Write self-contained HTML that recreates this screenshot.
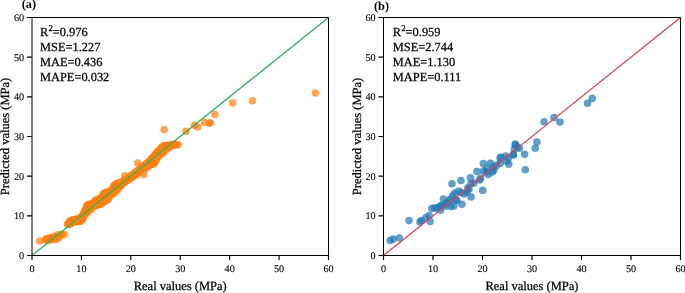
<!DOCTYPE html>
<html><head><meta charset="utf-8"><style>
html,body{margin:0;padding:0;background:#fff;overflow:hidden}
svg{display:block;will-change:transform}
text{font-family:"Liberation Serif",serif;fill:#000;stroke:#000;text-rendering:geometricPrecision}
</style></head><body>
<svg width="685" height="293" viewBox="0 0 685 293">
<g fill="#ff7f0e" fill-opacity="0.7">
<circle cx="67.8" cy="224.1" r="3.8"/>
<circle cx="67.8" cy="224.2" r="3.8"/>
<circle cx="69.5" cy="221.3" r="3.8"/>
<circle cx="69.5" cy="222.9" r="3.8"/>
<circle cx="69.5" cy="224.5" r="3.8"/>
<circle cx="71.2" cy="220.4" r="3.8"/>
<circle cx="71.2" cy="221.9" r="3.8"/>
<circle cx="71.2" cy="223.4" r="3.8"/>
<circle cx="72.9" cy="219.7" r="3.8"/>
<circle cx="72.9" cy="221.0" r="3.8"/>
<circle cx="72.9" cy="222.2" r="3.8"/>
<circle cx="74.6" cy="219.5" r="3.8"/>
<circle cx="74.6" cy="220.5" r="3.8"/>
<circle cx="74.6" cy="221.4" r="3.8"/>
<circle cx="76.3" cy="219.3" r="3.8"/>
<circle cx="76.3" cy="220.3" r="3.8"/>
<circle cx="76.3" cy="221.4" r="3.8"/>
<circle cx="78.0" cy="218.7" r="3.8"/>
<circle cx="78.0" cy="220.2" r="3.8"/>
<circle cx="78.0" cy="221.7" r="3.8"/>
<circle cx="79.7" cy="218.1" r="3.8"/>
<circle cx="79.7" cy="219.8" r="3.8"/>
<circle cx="79.7" cy="221.4" r="3.8"/>
<circle cx="81.4" cy="216.9" r="3.8"/>
<circle cx="81.4" cy="218.2" r="3.8"/>
<circle cx="81.4" cy="219.4" r="3.8"/>
<circle cx="81.4" cy="220.7" r="3.8"/>
<circle cx="83.1" cy="213.8" r="3.8"/>
<circle cx="83.1" cy="215.4" r="3.8"/>
<circle cx="83.1" cy="216.9" r="3.8"/>
<circle cx="83.1" cy="218.5" r="3.8"/>
<circle cx="84.8" cy="210.3" r="3.8"/>
<circle cx="84.8" cy="211.9" r="3.8"/>
<circle cx="84.8" cy="213.6" r="3.8"/>
<circle cx="84.8" cy="215.2" r="3.8"/>
<circle cx="86.5" cy="206.0" r="3.8"/>
<circle cx="86.5" cy="207.4" r="3.8"/>
<circle cx="86.5" cy="208.7" r="3.8"/>
<circle cx="86.5" cy="210.1" r="3.8"/>
<circle cx="86.5" cy="211.4" r="3.8"/>
<circle cx="86.5" cy="212.8" r="3.8"/>
<circle cx="88.2" cy="204.4" r="3.8"/>
<circle cx="88.2" cy="205.8" r="3.8"/>
<circle cx="88.2" cy="207.2" r="3.8"/>
<circle cx="88.2" cy="208.6" r="3.8"/>
<circle cx="88.2" cy="210.0" r="3.8"/>
<circle cx="88.2" cy="211.4" r="3.8"/>
<circle cx="89.9" cy="204.2" r="3.8"/>
<circle cx="89.9" cy="205.7" r="3.8"/>
<circle cx="89.9" cy="207.1" r="3.8"/>
<circle cx="89.9" cy="208.6" r="3.8"/>
<circle cx="89.9" cy="210.1" r="3.8"/>
<circle cx="91.6" cy="204.0" r="3.8"/>
<circle cx="91.6" cy="205.6" r="3.8"/>
<circle cx="91.6" cy="207.2" r="3.8"/>
<circle cx="91.6" cy="208.7" r="3.8"/>
<circle cx="93.3" cy="202.9" r="3.8"/>
<circle cx="93.3" cy="204.2" r="3.8"/>
<circle cx="93.3" cy="205.5" r="3.8"/>
<circle cx="93.3" cy="206.8" r="3.8"/>
<circle cx="95.0" cy="200.7" r="3.8"/>
<circle cx="95.0" cy="202.4" r="3.8"/>
<circle cx="95.0" cy="204.1" r="3.8"/>
<circle cx="95.0" cy="205.8" r="3.8"/>
<circle cx="96.7" cy="199.9" r="3.8"/>
<circle cx="96.7" cy="201.3" r="3.8"/>
<circle cx="96.7" cy="202.6" r="3.8"/>
<circle cx="96.7" cy="203.9" r="3.8"/>
<circle cx="96.7" cy="205.3" r="3.8"/>
<circle cx="98.4" cy="199.3" r="3.8"/>
<circle cx="98.4" cy="200.7" r="3.8"/>
<circle cx="98.4" cy="202.1" r="3.8"/>
<circle cx="98.4" cy="203.4" r="3.8"/>
<circle cx="98.4" cy="204.8" r="3.8"/>
<circle cx="100.1" cy="198.5" r="3.8"/>
<circle cx="100.1" cy="200.0" r="3.8"/>
<circle cx="100.1" cy="201.4" r="3.8"/>
<circle cx="100.1" cy="202.9" r="3.8"/>
<circle cx="100.1" cy="204.3" r="3.8"/>
<circle cx="101.8" cy="196.6" r="3.8"/>
<circle cx="101.8" cy="198.1" r="3.8"/>
<circle cx="101.8" cy="199.5" r="3.8"/>
<circle cx="101.8" cy="200.9" r="3.8"/>
<circle cx="101.8" cy="202.3" r="3.8"/>
<circle cx="101.8" cy="203.7" r="3.8"/>
<circle cx="103.5" cy="193.9" r="3.8"/>
<circle cx="103.5" cy="195.5" r="3.8"/>
<circle cx="103.5" cy="197.2" r="3.8"/>
<circle cx="103.5" cy="198.8" r="3.8"/>
<circle cx="103.5" cy="200.5" r="3.8"/>
<circle cx="103.5" cy="202.1" r="3.8"/>
<circle cx="105.2" cy="192.5" r="3.8"/>
<circle cx="105.2" cy="193.9" r="3.8"/>
<circle cx="105.2" cy="195.3" r="3.8"/>
<circle cx="105.2" cy="196.7" r="3.8"/>
<circle cx="105.2" cy="198.1" r="3.8"/>
<circle cx="105.2" cy="199.6" r="3.8"/>
<circle cx="105.2" cy="201.0" r="3.8"/>
<circle cx="106.9" cy="192.0" r="3.8"/>
<circle cx="106.9" cy="193.6" r="3.8"/>
<circle cx="106.9" cy="195.2" r="3.8"/>
<circle cx="106.9" cy="196.9" r="3.8"/>
<circle cx="106.9" cy="198.5" r="3.8"/>
<circle cx="106.9" cy="200.1" r="3.8"/>
<circle cx="108.6" cy="191.7" r="3.8"/>
<circle cx="108.6" cy="193.2" r="3.8"/>
<circle cx="108.6" cy="194.7" r="3.8"/>
<circle cx="108.6" cy="196.1" r="3.8"/>
<circle cx="108.6" cy="197.6" r="3.8"/>
<circle cx="108.6" cy="199.1" r="3.8"/>
<circle cx="110.3" cy="191.2" r="3.8"/>
<circle cx="110.3" cy="192.7" r="3.8"/>
<circle cx="110.3" cy="194.2" r="3.8"/>
<circle cx="110.3" cy="195.7" r="3.8"/>
<circle cx="112.0" cy="189.3" r="3.8"/>
<circle cx="112.0" cy="190.9" r="3.8"/>
<circle cx="112.0" cy="192.5" r="3.8"/>
<circle cx="112.0" cy="194.1" r="3.8"/>
<circle cx="113.7" cy="185.7" r="3.8"/>
<circle cx="113.7" cy="187.2" r="3.8"/>
<circle cx="113.7" cy="188.7" r="3.8"/>
<circle cx="113.7" cy="190.2" r="3.8"/>
<circle cx="113.7" cy="191.7" r="3.8"/>
<circle cx="113.7" cy="193.2" r="3.8"/>
<circle cx="115.4" cy="184.3" r="3.8"/>
<circle cx="115.4" cy="185.9" r="3.8"/>
<circle cx="115.4" cy="187.4" r="3.8"/>
<circle cx="115.4" cy="189.0" r="3.8"/>
<circle cx="115.4" cy="190.6" r="3.8"/>
<circle cx="115.4" cy="192.2" r="3.8"/>
<circle cx="117.1" cy="183.4" r="3.8"/>
<circle cx="117.1" cy="185.1" r="3.8"/>
<circle cx="117.1" cy="186.7" r="3.8"/>
<circle cx="117.1" cy="188.4" r="3.8"/>
<circle cx="117.1" cy="190.0" r="3.8"/>
<circle cx="118.8" cy="183.1" r="3.8"/>
<circle cx="118.8" cy="184.7" r="3.8"/>
<circle cx="118.8" cy="186.3" r="3.8"/>
<circle cx="118.8" cy="187.9" r="3.8"/>
<circle cx="120.5" cy="182.6" r="3.8"/>
<circle cx="120.5" cy="183.7" r="3.8"/>
<circle cx="120.5" cy="184.9" r="3.8"/>
<circle cx="120.5" cy="186.0" r="3.8"/>
<circle cx="122.2" cy="181.8" r="3.8"/>
<circle cx="122.2" cy="183.0" r="3.8"/>
<circle cx="122.2" cy="184.2" r="3.8"/>
<circle cx="123.9" cy="180.9" r="3.8"/>
<circle cx="123.9" cy="181.8" r="3.8"/>
<circle cx="123.9" cy="182.7" r="3.8"/>
<circle cx="125.6" cy="179.8" r="3.8"/>
<circle cx="125.6" cy="180.7" r="3.8"/>
<circle cx="125.6" cy="181.6" r="3.8"/>
<circle cx="127.3" cy="178.4" r="3.8"/>
<circle cx="127.3" cy="179.5" r="3.8"/>
<circle cx="127.3" cy="180.6" r="3.8"/>
<circle cx="129.0" cy="177.0" r="3.8"/>
<circle cx="129.0" cy="178.3" r="3.8"/>
<circle cx="129.0" cy="179.5" r="3.8"/>
<circle cx="130.7" cy="175.8" r="3.8"/>
<circle cx="130.7" cy="177.1" r="3.8"/>
<circle cx="130.7" cy="178.3" r="3.8"/>
<circle cx="132.4" cy="174.7" r="3.8"/>
<circle cx="132.4" cy="175.9" r="3.8"/>
<circle cx="132.4" cy="177.2" r="3.8"/>
<circle cx="134.1" cy="173.4" r="3.8"/>
<circle cx="134.1" cy="174.7" r="3.8"/>
<circle cx="134.1" cy="176.1" r="3.8"/>
<circle cx="135.8" cy="172.0" r="3.8"/>
<circle cx="135.8" cy="173.5" r="3.8"/>
<circle cx="135.8" cy="174.9" r="3.8"/>
<circle cx="137.5" cy="170.6" r="3.8"/>
<circle cx="137.5" cy="172.0" r="3.8"/>
<circle cx="137.5" cy="173.5" r="3.8"/>
<circle cx="139.2" cy="169.2" r="3.8"/>
<circle cx="139.2" cy="170.5" r="3.8"/>
<circle cx="139.2" cy="171.9" r="3.8"/>
<circle cx="140.9" cy="167.7" r="3.8"/>
<circle cx="140.9" cy="169.3" r="3.8"/>
<circle cx="140.9" cy="170.8" r="3.8"/>
<circle cx="142.6" cy="166.5" r="3.8"/>
<circle cx="142.6" cy="168.2" r="3.8"/>
<circle cx="142.6" cy="169.9" r="3.8"/>
<circle cx="144.3" cy="165.4" r="3.8"/>
<circle cx="144.3" cy="166.6" r="3.8"/>
<circle cx="144.3" cy="167.8" r="3.8"/>
<circle cx="144.3" cy="169.0" r="3.8"/>
<circle cx="146.0" cy="164.1" r="3.8"/>
<circle cx="146.0" cy="165.4" r="3.8"/>
<circle cx="146.0" cy="166.6" r="3.8"/>
<circle cx="146.0" cy="167.9" r="3.8"/>
<circle cx="147.7" cy="162.5" r="3.8"/>
<circle cx="147.7" cy="163.9" r="3.8"/>
<circle cx="147.7" cy="165.3" r="3.8"/>
<circle cx="147.7" cy="166.8" r="3.8"/>
<circle cx="149.4" cy="160.8" r="3.8"/>
<circle cx="149.4" cy="162.4" r="3.8"/>
<circle cx="149.4" cy="164.0" r="3.8"/>
<circle cx="149.4" cy="165.6" r="3.8"/>
<circle cx="151.1" cy="159.1" r="3.8"/>
<circle cx="151.1" cy="160.5" r="3.8"/>
<circle cx="151.1" cy="162.0" r="3.8"/>
<circle cx="151.1" cy="163.4" r="3.8"/>
<circle cx="151.1" cy="164.8" r="3.8"/>
<circle cx="152.8" cy="157.4" r="3.8"/>
<circle cx="152.8" cy="158.7" r="3.8"/>
<circle cx="152.8" cy="160.1" r="3.8"/>
<circle cx="152.8" cy="161.5" r="3.8"/>
<circle cx="152.8" cy="162.8" r="3.8"/>
<circle cx="152.8" cy="164.2" r="3.8"/>
<circle cx="154.5" cy="155.3" r="3.8"/>
<circle cx="154.5" cy="156.9" r="3.8"/>
<circle cx="154.5" cy="158.6" r="3.8"/>
<circle cx="154.5" cy="160.2" r="3.8"/>
<circle cx="154.5" cy="161.8" r="3.8"/>
<circle cx="154.5" cy="163.4" r="3.8"/>
<circle cx="156.2" cy="153.3" r="3.8"/>
<circle cx="156.2" cy="154.6" r="3.8"/>
<circle cx="156.2" cy="156.0" r="3.8"/>
<circle cx="156.2" cy="157.4" r="3.8"/>
<circle cx="156.2" cy="158.7" r="3.8"/>
<circle cx="156.2" cy="160.1" r="3.8"/>
<circle cx="157.9" cy="151.4" r="3.8"/>
<circle cx="157.9" cy="152.7" r="3.8"/>
<circle cx="157.9" cy="154.1" r="3.8"/>
<circle cx="157.9" cy="155.4" r="3.8"/>
<circle cx="157.9" cy="156.7" r="3.8"/>
<circle cx="159.6" cy="149.7" r="3.8"/>
<circle cx="159.6" cy="151.0" r="3.8"/>
<circle cx="159.6" cy="152.4" r="3.8"/>
<circle cx="159.6" cy="153.8" r="3.8"/>
<circle cx="159.6" cy="155.2" r="3.8"/>
<circle cx="161.3" cy="147.7" r="3.8"/>
<circle cx="161.3" cy="149.4" r="3.8"/>
<circle cx="161.3" cy="151.0" r="3.8"/>
<circle cx="161.3" cy="152.7" r="3.8"/>
<circle cx="161.3" cy="154.3" r="3.8"/>
<circle cx="163.0" cy="146.0" r="3.8"/>
<circle cx="163.0" cy="147.7" r="3.8"/>
<circle cx="163.0" cy="149.4" r="3.8"/>
<circle cx="163.0" cy="151.1" r="3.8"/>
<circle cx="163.0" cy="152.8" r="3.8"/>
<circle cx="164.7" cy="145.6" r="3.8"/>
<circle cx="164.7" cy="147.3" r="3.8"/>
<circle cx="164.7" cy="149.0" r="3.8"/>
<circle cx="164.7" cy="150.7" r="3.8"/>
<circle cx="166.4" cy="145.5" r="3.8"/>
<circle cx="166.4" cy="146.8" r="3.8"/>
<circle cx="166.4" cy="148.0" r="3.8"/>
<circle cx="166.4" cy="149.3" r="3.8"/>
<circle cx="168.1" cy="145.3" r="3.8"/>
<circle cx="168.1" cy="146.7" r="3.8"/>
<circle cx="168.1" cy="148.0" r="3.8"/>
<circle cx="169.8" cy="145.1" r="3.8"/>
<circle cx="169.8" cy="146.0" r="3.8"/>
<circle cx="169.8" cy="147.0" r="3.8"/>
<circle cx="171.5" cy="144.7" r="3.8"/>
<circle cx="171.5" cy="146.0" r="3.8"/>
<circle cx="173.2" cy="144.3" r="3.8"/>
<circle cx="173.2" cy="145.1" r="3.8"/>
<circle cx="174.9" cy="144.2" r="3.8"/>
<circle cx="174.9" cy="144.6" r="3.8"/>
<circle cx="176.6" cy="144.6" r="3.8"/>
<circle cx="178.3" cy="144.9" r="3.8"/>
<circle cx="39.6" cy="241.0" r="3.8"/>
<circle cx="45.3" cy="240.0" r="3.8"/>
<circle cx="46.3" cy="238.9" r="3.8"/>
<circle cx="49.4" cy="237.9" r="3.8"/>
<circle cx="49.4" cy="240.5" r="3.8"/>
<circle cx="52.4" cy="237.4" r="3.8"/>
<circle cx="54.5" cy="236.9" r="3.8"/>
<circle cx="56.0" cy="239.4" r="3.8"/>
<circle cx="58.0" cy="234.8" r="3.8"/>
<circle cx="58.6" cy="237.9" r="3.8"/>
<circle cx="60.6" cy="235.4" r="3.8"/>
<circle cx="64.4" cy="234.6" r="3.8"/>
<circle cx="47.5" cy="239.5" r="3.8"/>
<circle cx="51.0" cy="238.5" r="3.8"/>
<circle cx="55.0" cy="237.5" r="3.8"/>
<circle cx="57.5" cy="236.2" r="3.8"/>
<circle cx="53.0" cy="239.6" r="3.8"/>
<circle cx="61.5" cy="234.2" r="3.8"/>
<circle cx="124.8" cy="175.9" r="3.8"/>
<circle cx="137.7" cy="163.0" r="3.8"/>
<circle cx="143.9" cy="174.6" r="3.8"/>
<circle cx="164.2" cy="129.5" r="3.8"/>
<circle cx="186.0" cy="131.2" r="3.8"/>
<circle cx="194.4" cy="125.2" r="3.8"/>
<circle cx="197.8" cy="127.0" r="3.8"/>
<circle cx="204.6" cy="122.4" r="3.8"/>
<circle cx="210.0" cy="123.0" r="3.8"/>
<circle cx="210.0" cy="123.0" r="3.8"/>
<circle cx="214.9" cy="114.6" r="3.8"/>
<circle cx="232.7" cy="103.1" r="3.8"/>
<circle cx="252.6" cy="100.7" r="3.8"/>
<circle cx="315.4" cy="93.0" r="3.8"/>
</g>
<line x1="32" y1="255.5" x2="328.5" y2="17.5" stroke="#32b35a" stroke-width="1.3"/>
<path d="M32 17.5H328.5V255.5H32Z" fill="none" stroke="#000" stroke-width="1"/>
<path d="M32.00 255.5v4.5 M27 255.50h5 M81.42 255.5v4.5 M27 215.83h5 M130.83 255.5v4.5 M27 176.17h5 M180.25 255.5v4.5 M27 136.50h5 M229.67 255.5v4.5 M27 96.83h5 M279.08 255.5v4.5 M27 57.17h5 M328.50 255.5v4.5 M27 17.50h5" stroke="#000" stroke-width="1.15" fill="none"/>
<g font-size="10.2" text-anchor="middle" stroke-width="0.1">
<text x="32.00" y="272.2">0</text>
<text x="81.42" y="272.2">10</text>
<text x="130.83" y="272.2">20</text>
<text x="180.25" y="272.2">30</text>
<text x="229.67" y="272.2">40</text>
<text x="279.08" y="272.2">50</text>
<text x="328.50" y="272.2">60</text>
</g><g font-size="10.2" text-anchor="end" stroke-width="0.1">
<text x="24.20" y="258.90">0</text>
<text x="24.20" y="219.23">10</text>
<text x="24.20" y="179.57">20</text>
<text x="24.20" y="139.90">30</text>
<text x="24.20" y="100.23">40</text>
<text x="24.20" y="60.57">50</text>
<text x="24.20" y="20.90">60</text>
</g>
<text x="180.25" y="290.3" font-size="12.5" stroke-width="0.25" text-anchor="middle">Real values (MPa)</text>
<text transform="translate(9.30,136.50) rotate(-90)" font-size="12.5" stroke-width="0.25" text-anchor="middle">Predicted values (MPa)</text>
<g font-size="12.4" stroke-width="0.25" transform="translate(0,-0.2)">
<text x="40.0" y="36">R<tspan font-size="8.8" dx="0.15" dy="-4.9">2</tspan><tspan dy="4.9">=0.976</tspan></text>
<text x="40.0" y="51">MSE=1.227</text>
<text x="40.0" y="66">MAE=0.436</text>
<text x="40.0" y="81">MAPE=0.032</text>
</g>
<text x="28.9" y="8.3" font-size="12.3" font-weight="bold" stroke-width="0" text-anchor="middle">(a)</text><g fill="#1f77b4" fill-opacity="0.7">
<circle cx="390.2" cy="240.5" r="3.8"/>
<circle cx="393.2" cy="239.1" r="3.8"/>
<circle cx="399.4" cy="238.0" r="3.8"/>
<circle cx="409.0" cy="220.6" r="3.8"/>
<circle cx="419.9" cy="222.0" r="3.8"/>
<circle cx="421.5" cy="220.6" r="3.8"/>
<circle cx="426.0" cy="217.5" r="3.8"/>
<circle cx="429.1" cy="215.5" r="3.8"/>
<circle cx="430.1" cy="221.5" r="3.8"/>
<circle cx="431.8" cy="208.6" r="3.8"/>
<circle cx="436.9" cy="208.3" r="3.8"/>
<circle cx="440.6" cy="210.2" r="3.8"/>
<circle cx="443.5" cy="199.0" r="3.8"/>
<circle cx="445.6" cy="206.2" r="3.8"/>
<circle cx="448.7" cy="201.3" r="3.8"/>
<circle cx="453.8" cy="206.0" r="3.8"/>
<circle cx="454.7" cy="193.1" r="3.8"/>
<circle cx="458.7" cy="191.0" r="3.8"/>
<circle cx="456.9" cy="200.5" r="3.8"/>
<circle cx="461.9" cy="204.3" r="3.8"/>
<circle cx="464.1" cy="194.0" r="3.8"/>
<circle cx="467.1" cy="192.0" r="3.8"/>
<circle cx="467.9" cy="187.9" r="3.8"/>
<circle cx="471.1" cy="197.0" r="3.8"/>
<circle cx="471.0" cy="183.8" r="3.8"/>
<circle cx="452.0" cy="183.8" r="3.8"/>
<circle cx="461.0" cy="180.5" r="3.8"/>
<circle cx="470.4" cy="177.9" r="3.8"/>
<circle cx="477.0" cy="171.5" r="3.8"/>
<circle cx="479.8" cy="180.0" r="3.8"/>
<circle cx="482.7" cy="190.4" r="3.8"/>
<circle cx="480.6" cy="178.1" r="3.8"/>
<circle cx="483.4" cy="163.6" r="3.8"/>
<circle cx="486.3" cy="172.0" r="3.8"/>
<circle cx="488.3" cy="174.6" r="3.8"/>
<circle cx="490.4" cy="163.3" r="3.8"/>
<circle cx="492.4" cy="172.0" r="3.8"/>
<circle cx="492.9" cy="166.9" r="3.8"/>
<circle cx="496.5" cy="165.4" r="3.8"/>
<circle cx="500.1" cy="157.7" r="3.8"/>
<circle cx="500.1" cy="163.3" r="3.8"/>
<circle cx="505.7" cy="156.1" r="3.8"/>
<circle cx="506.7" cy="161.3" r="3.8"/>
<circle cx="508.8" cy="164.3" r="3.8"/>
<circle cx="513.4" cy="155.1" r="3.8"/>
<circle cx="515.3" cy="145.1" r="3.8"/>
<circle cx="519.4" cy="148.2" r="3.8"/>
<circle cx="515.4" cy="144.1" r="3.8"/>
<circle cx="517.4" cy="147.1" r="3.8"/>
<circle cx="514.3" cy="149.2" r="3.8"/>
<circle cx="513.3" cy="154.3" r="3.8"/>
<circle cx="508.2" cy="158.4" r="3.8"/>
<circle cx="501.0" cy="157.4" r="3.8"/>
<circle cx="524.6" cy="154.3" r="3.8"/>
<circle cx="535.2" cy="148.2" r="3.8"/>
<circle cx="536.9" cy="142.0" r="3.8"/>
<circle cx="544.1" cy="121.8" r="3.8"/>
<circle cx="554.0" cy="117.5" r="3.8"/>
<circle cx="560.0" cy="122.0" r="3.8"/>
<circle cx="587.5" cy="103.2" r="3.8"/>
<circle cx="592.3" cy="98.4" r="3.8"/>
<circle cx="525.3" cy="169.8" r="3.8"/>
<circle cx="450.0" cy="199.5" r="3.8"/>
<circle cx="456.0" cy="200.0" r="3.8"/>
<circle cx="461.0" cy="192.5" r="3.8"/>
<circle cx="469.0" cy="189.0" r="3.8"/>
<circle cx="474.0" cy="183.0" r="3.8"/>
<circle cx="452.5" cy="196.0" r="3.8"/>
<circle cx="447.0" cy="203.0" r="3.8"/>
<circle cx="441.0" cy="205.5" r="3.8"/>
<circle cx="487.0" cy="168.5" r="3.8"/>
<circle cx="494.0" cy="170.0" r="3.8"/>
<circle cx="483.5" cy="171.0" r="3.8"/>
<circle cx="434.5" cy="207.8" r="3.8"/>
<circle cx="439.5" cy="206.8" r="3.8"/>
<circle cx="444.0" cy="204.5" r="3.8"/>
<circle cx="451.0" cy="206.5" r="3.8"/>
</g>
<line x1="383.5" y1="255.5" x2="680.5" y2="17.5" stroke="#dd4358" stroke-width="1.3"/>
<path d="M383.5 17.5H680.5V255.5H383.5Z" fill="none" stroke="#000" stroke-width="1"/>
<path d="M383.50 255.5v4.5 M378.5 255.50h5 M433.00 255.5v4.5 M378.5 215.83h5 M482.50 255.5v4.5 M378.5 176.17h5 M532.00 255.5v4.5 M378.5 136.50h5 M581.50 255.5v4.5 M378.5 96.83h5 M631.00 255.5v4.5 M378.5 57.17h5 M680.50 255.5v4.5 M378.5 17.50h5" stroke="#000" stroke-width="1.15" fill="none"/>
<g font-size="10.2" text-anchor="middle" stroke-width="0.1">
<text x="383.50" y="272.2">0</text>
<text x="433.00" y="272.2">10</text>
<text x="482.50" y="272.2">20</text>
<text x="532.00" y="272.2">30</text>
<text x="581.50" y="272.2">40</text>
<text x="631.00" y="272.2">50</text>
<text x="680.50" y="272.2">60</text>
</g><g font-size="10.2" text-anchor="end" stroke-width="0.1">
<text x="375.70" y="258.90">0</text>
<text x="375.70" y="219.23">10</text>
<text x="375.70" y="179.57">20</text>
<text x="375.70" y="139.90">30</text>
<text x="375.70" y="100.23">40</text>
<text x="375.70" y="60.57">50</text>
<text x="375.70" y="20.90">60</text>
</g>
<text x="532.00" y="290.3" font-size="12.5" stroke-width="0.25" text-anchor="middle">Real values (MPa)</text>
<text transform="translate(360.80,136.50) rotate(-90)" font-size="12.5" stroke-width="0.25" text-anchor="middle">Predicted values (MPa)</text>
<g font-size="12.4" stroke-width="0.25" transform="translate(0,0.3)">
<text x="392.8" y="36">R<tspan font-size="8.8" dx="0.15" dy="-4.9">2</tspan><tspan dy="4.9">=0.959</tspan></text>
<text x="392.8" y="51">MSE=2.744</text>
<text x="392.8" y="66">MAE=1.130</text>
<text x="392.8" y="81">MAPE=0.111</text>
</g>
<text x="381.5" y="9.6" font-size="12.3" font-weight="bold" stroke-width="0" text-anchor="middle">(b)</text>
</svg></body></html>
